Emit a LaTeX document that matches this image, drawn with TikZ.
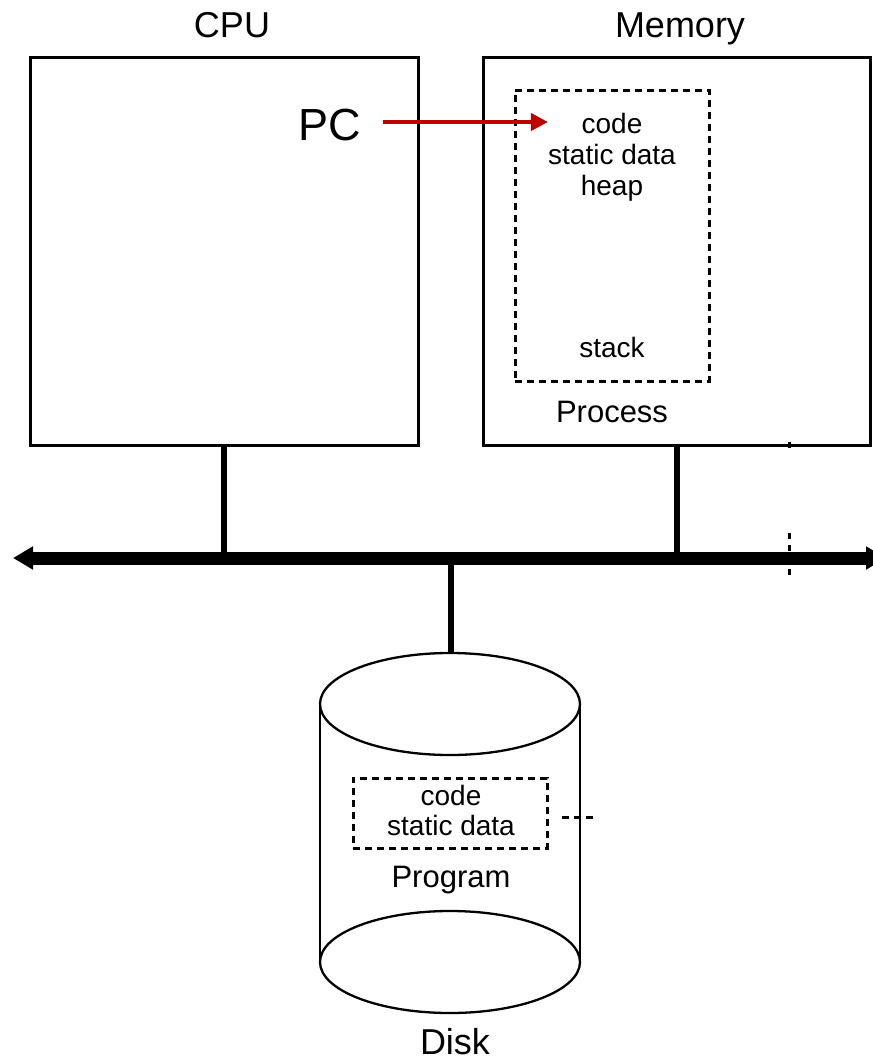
\documentclass[tikz,border=0pt]{standalone}
\usepackage{fontspec}
\setmainfont{Liberation Sans}
\usetikzlibrary{arrows.meta}
\definecolor{pcred}{RGB}{192,0,0}
\begin{document}
\begin{tikzpicture}[x=1pt,y=-1pt,
  hwbox/.style={draw, line width=3pt, inner sep=0pt},
  dbox/.style={draw, line width=3pt, dash pattern=on 7pt off 5pt, inner sep=0pt},
  big/.style={font=\fontsize{36}{40}\selectfont, anchor=base, inner sep=0pt},
  mid/.style={font=\fontsize{31}{34}\selectfont, anchor=base, inner sep=0pt},
  small/.style={font=\fontsize{28}{31}\selectfont, anchor=base, inner sep=0pt},
  conn/.style={line width=6pt},
  bus/.style={line width=13pt, {Triangle[length=20pt,width=22pt]}-{Triangle[length=20pt,width=22pt]}},
  thin/.style={line width=2.3pt},
  tick/.style={line width=3pt, dash pattern=on 6pt off 6pt}
]
\useasboundingbox (0,0) rectangle (873,1061);
\fill[white] (0,0) rectangle (873,1061);

% boxes
\node[hwbox, minimum width=388pt, minimum height=388pt] (cpu) at (224,251) {};
\node[hwbox, minimum width=387pt, minimum height=388pt] (mem) at (676.5,251) {};
\node[big] (cpulbl) at (232,37) {CPU};
\node[big] (memlbl) at (680,37) {Memory};

% process
\node[dbox, minimum width=194pt, minimum height=291pt] (proc) at (612,235.5) {};
\node[small] (code1) at (612,133) {code};
\node[small] (sd1) at (612,164) {static data};
\node[small] (heap) at (612,195) {heap};
\node[small] (stack) at (612,357) {stack};
\node[mid] (process) at (612,422) {Process};

% PC
\node[font=\fontsize{45}{48}\selectfont, anchor=base, inner sep=0pt] (pc) at (330,140) {PC};
\coordinate (pcs) at (383,122);
\coordinate (pce) at (548,122);
\draw[pcred, line width=4pt, -{Triangle[length=17pt,width=17pt]}] (pcs) -- (pce);

% bus
\coordinate (busL) at (13,558);
\coordinate (busR) at (886,558);
\draw[conn] (cpu.south) -- (cpu.south |- busL);
\draw[conn] (mem.south -| 677,0) -- (677,558);
\coordinate (disktop) at (450.5,653);
\draw[conn] (disktop |- busL) -- (disktop);
\draw[bus] (busL) -- (busR);

% right dashed marks
\coordinate (tk1) at (789,442);
\coordinate (tk2) at (789,448);
\draw[line width=3pt] (tk1) -- (tk2);
\coordinate (d1) at (789,533);
\coordinate (d2) at (789,578);
\draw[tick] (d1) -- (d2);

% disk
\draw[thin] (320,704) -- (320,962);
\draw[thin] (580,704) -- (580,962);
\draw[thin, fill=white] (450,704) ellipse [x radius=130, y radius=51];
\draw[thin] (450,962) ellipse [x radius=130, y radius=51];
\node[dbox, minimum width=194pt, minimum height=70pt] (prog) at (450,813) {};
\node[small] (code2) at (451,805) {code};
\node[small] (sd2) at (451,835) {static data};
\node[mid] (program) at (451,887) {Program};
\node[big] (disk) at (455,1054) {Disk};
\coordinate (pd1) at (562,817);
\coordinate (pd2) at (594,817);
\draw[line width=3pt, dash pattern=on 7pt off 5pt] (pd1) -- (pd2);
\end{tikzpicture}
\end{document}
